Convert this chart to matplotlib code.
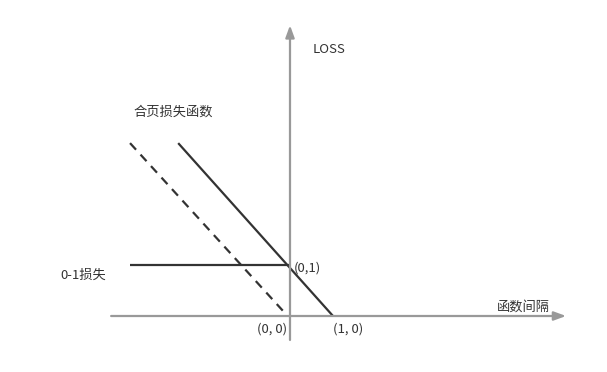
import matplotlib
matplotlib.use("Agg")
import matplotlib.pyplot as plt

plt.rcParams['font.family'] = ['Noto Sans CJK SC', 'DejaVu Sans']

# data (in units: margin z on x, loss on y)
hinge_x = [-2.60, 1.0]
hinge_y = [3.39, 0.0]
dashed_x = [-3.72, -0.12]
dashed_y = [3.39, 0.06]
zero_one_x = [-3.72, 0.0]
zero_one_y = [1.0, 1.0]
x_axis_range = [-4.16, 6.42]
y_axis_range = [-0.47, 5.70]

labels = {
    "LOSS": (0.53, 5.22),
    "合页损失函数": (-3.65, 3.99),
    "0-1损失": (-5.35, 0.79),
    "(0,1)": (0.08, 0.94),
    "(0, 0)": (-0.76, -0.25),
    "(1, 0)": (1.0, -0.25),
    "函数间隔": (4.8, 0.18),
}

fig = plt.figure(figsize=(6.07, 3.72), dpi=100)
ax = fig.add_axes([0, 0, 1, 1])
ax.set_xlim(-290/43, (607-290)/43)
ax.set_ylim((316-372)/51, 316/51)
ax.axis('off')

axis_color = '#999999'
line_color = '#333333'
text_color = '#333333'

arrow_style = '-|>,head_length=0.6,head_width=0.22'
ax.annotate('', xy=(x_axis_range[1], 0), xytext=(x_axis_range[0], 0),
            arrowprops=dict(arrowstyle=arrow_style, color=axis_color, lw=1.6,
                            mutation_scale=12, shrinkA=0, shrinkB=0,
                            facecolor='#333333'))
ax.annotate('', xy=(0, y_axis_range[1]), xytext=(0, y_axis_range[0]),
            arrowprops=dict(arrowstyle=arrow_style, color=axis_color, lw=1.6,
                            mutation_scale=12, shrinkA=0, shrinkB=0,
                            facecolor='#333333'))

ax.plot(hinge_x, hinge_y, color=line_color, lw=1.6, solid_capstyle='butt')
ax.plot(dashed_x, dashed_y, color=line_color, lw=1.6, ls=(0, (4, 3)))
ax.plot(zero_one_x, zero_one_y, color=line_color, lw=1.6, solid_capstyle='butt')

for t, (x, y) in labels.items():
    ax.text(x, y, t, fontsize=9.5, color=text_color, ha='left', va='center')

fig.savefig('out.png', dpi=100)
